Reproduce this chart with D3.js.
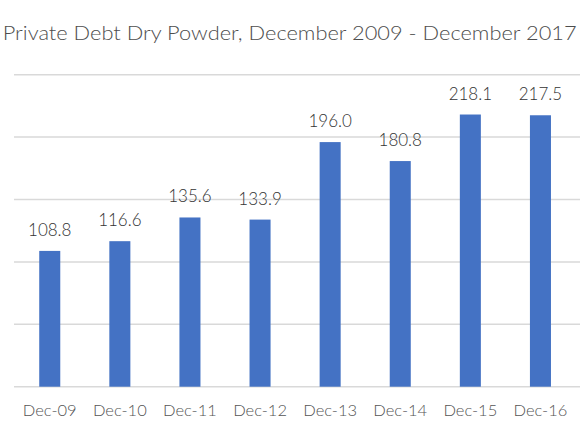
<!DOCTYPE html>
<html lang="en">
<head>
    <meta charset="UTF-8">
    <title>Private Debt Dry Powder</title>
    <script src="https://d3js.org/d3.v7.min.js"></script>
    <style>
        body { margin: 0; background: #fff; font-family: Lato, "Open Sans", sans-serif; }
        svg { display: block; }
        text { font-weight: 300; }
    </style>
</head>
<body>
    <div id="chart"></div>
    <script>
        // Data
        const categories = ["Dec-09", "Dec-10", "Dec-11", "Dec-12", "Dec-13", "Dec-14", "Dec-15", "Dec-16"];
        const values = [108.8, 116.6, 135.6, 133.9, 196.0, 180.8, 218.1, 217.5];
        const gridTicks = [0, 50, 100, 150, 200, 250];
        const titleText = "Private Debt Dry Powder, December 2009 - December 2017";

        const W = 580, H = 435;
        const plot = { left: 14.7, right: 575.5, top: 74.7, bottom: 386.7 };

        const svg = d3.select("#chart").append("svg")
            .attr("width", W)
            .attr("height", H);

        const x = d3.scaleBand()
            .domain(categories)
            .range([plot.left, plot.right])
            .paddingInner(0.7)
            .paddingOuter(0.35);

        const y = d3.scaleLinear()
            .domain([0, 250])
            .range([plot.bottom, plot.top]);

        // Title
        svg.append("text")
            .attr("x", 2.7)
            .attr("y", 39.5)
            .attr("font-size", 19.5)
            .attr("fill", "#4d4d4d")
            .attr("textLength", 574)
            .attr("lengthAdjust", "spacingAndGlyphs")
            .text(titleText);

        // Gridlines
        svg.append("g")
            .selectAll("line")
            .data(gridTicks)
            .join("line")
            .attr("x1", 14)
            .attr("x2", W)
            .attr("y1", d => y(d))
            .attr("y2", d => y(d))
            .attr("stroke", "#d9d9d9")
            .attr("stroke-width", 1.5);

        // Bars
        svg.append("g")
            .selectAll("rect")
            .data(values)
            .join("rect")
            .attr("x", (d, i) => x(categories[i]))
            .attr("y", d => y(d))
            .attr("width", x.bandwidth())
            .attr("height", d => y(0) - y(d))
            .attr("fill", "#4472c4");

        // Value labels
        svg.append("g")
            .selectAll("text")
            .data(values)
            .join("text")
            .attr("x", (d, i) => x(categories[i]) + x.bandwidth() / 2)
            .attr("y", d => y(d) - 15)
            .attr("text-anchor", "middle")
            .attr("font-size", 17)
            .attr("fill", "#333333")
            .text(d => d.toFixed(1));

        // Category axis
        const xAxis = svg.append("g")
            .attr("transform", `translate(0, ${plot.bottom})`)
            .call(d3.axisBottom(x).tickSize(0).tickPadding(0));
        xAxis.select(".domain").remove();
        xAxis.selectAll("text")
            .attr("dy", null)
            .attr("y", 29.5)
            .attr("font-family", "Lato, 'Open Sans', sans-serif")
            .attr("font-size", 16.5)
            .attr("fill", "#555555");
    </script>
</body>
</html>
